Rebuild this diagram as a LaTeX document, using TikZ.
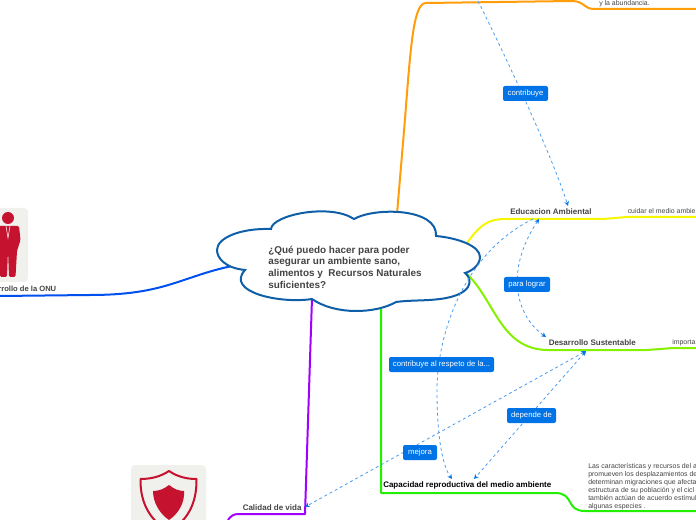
\documentclass[tikz,border=0pt]{standalone}
\usepackage{fontspec}
\setmainfont{Liberation Sans}
\usepackage{xcolor}
\usetikzlibrary{arrows.meta, positioning}
\definecolor{cloudblue}{HTML}{0F5FA8}
\definecolor{textgray}{HTML}{444444}
\definecolor{linkblue}{HTML}{4A9BEE}
\definecolor{tagblue}{HTML}{0073E6}
\definecolor{iconred}{HTML}{C4122F}
\definecolor{icongray}{HTML}{F0F0EC}
\definecolor{brorange}{HTML}{FF9D0A}
\definecolor{bryellow}{HTML}{F6F600}
\definecolor{brlime}{HTML}{85F000}
\definecolor{brgreen}{HTML}{22F000}
\definecolor{brpurple}{HTML}{A000FF}
\definecolor{brblue}{HTML}{0050F0}
\tikzset{
  topic/.style={anchor=west, inner sep=0pt, text=textgray, font=\fontsize{6}{7}\selectfont\bfseries},
  leaf/.style={anchor=west, inner sep=0pt, text=textgray, font=\fontsize{5.2}{6}\selectfont},
  tag/.style={rectangle, rounded corners=1.5pt, fill=tagblue, text=white, minimum height=11.25pt,
              inner sep=0pt, align=center, text height=4.5pt, text depth=0.8pt, font=\fontsize{5.8}{6}\selectfont},
  branch/.style={line width=1.5pt, line join=round},
  link/.style={linkblue, dash pattern=on 2.2pt off 2.2pt, line width=0.6pt},
  linkend/.style={-{Stealth[length=3.5pt,width=3.5pt,color=tagblue,fill=tagblue]}},
  linkboth/.style={{Stealth[length=3.5pt,width=3.5pt,color=tagblue,fill=tagblue]}-{Stealth[length=3.5pt,width=3.5pt,color=tagblue,fill=tagblue]}},
}
\begin{document}
\begin{tikzpicture}[x=0.75pt,y=-0.75pt]
  \useasboundingbox (0,0) rectangle (696,520);
  \clip (0,0) rectangle (696,520);

  % Icons
  \fill[icongray, rounded corners=3pt] (-20,208) rectangle (28,282);
  \fill[iconred] (8,218) circle (6);
  \fill[iconred, rounded corners=1pt] (-4,226) -- (19,226) -- (20.5,240) -- (17,251) -- (15.5,277) -- (9,277) -- (8,250) -- (7,277) -- (0,277) -- (-1,251) -- (-4,240) -- cycle;
  \draw[white, line width=0.4pt] (6,226) -- (8,238) -- (10,226);
  \fill[icongray, rounded corners=3pt] (131,465) rectangle (206,540);
  \draw[iconred, line width=1.5pt, line join=round] (169,471) .. controls (160,477) and (150,479) .. (140.5,479) .. controls (140,505) and (152,522) .. (169,531) .. controls (186,522) and (197,505) .. (196.5,479) .. controls (187,479) and (178,477) .. (169,471) -- cycle;
  \fill[iconred] (169,485) .. controls (164,489) and (159,491) .. (153,491) .. controls (153,503) and (160,514) .. (169,520) .. controls (178,514) and (185,503) .. (184,491) .. controls (179,491) and (174,489) .. (169,485) -- cycle;

  % Topic texts
  \node[topic] (edu) at (510,211.5) {Educacion Ambiental};
  \node[topic] (sus) at (548.5,342.5) {Desarrollo Sustentable};
  \node[topic, text=black] (cap) at (383,485.5) {Capacidad reproductiva del medio ambiente};
  \node[topic] (cal) at (242.5,507.5) {Calidad de vida};
  \node[topic, anchor=east, font=\fontsize{5.7}{7}\selectfont\bfseries] (onu) at (56.5,288.5) {rrollo de la ONU};
  \node[leaf] (abu) at (599,3.5) {y la abundancia.};
  \node[leaf] (cui) at (627.5,211.5) {cuidar el medio ambie};
  \node[leaf] (imp) at (672,342.5) {importa};
  \node[leaf, anchor=north west, align=left] (car) at (588,462.7)
    {Las características y recursos del a\\promueven los desplazamientos de\\determinan migraciones que afecta\\estructura de su población y el cicl\\también actúan de acuerdo estímul\\algunas especies .};

  % Branch ends
  \coordinate (cloudtop) at (397,214);
  \coordinate (cloudyel) at (467,243);
  \coordinate (cloudlim) at (466,273);
  \coordinate (cloudgrn) at (381,304);
  \coordinate (cloudpur) at (312,298);
  \coordinate (cloudblu) at (232,266);
  \coordinate (orangeend) at (696,9);
  \coordinate (yellowend) at (696,217);
  \coordinate (limeend) at (696,348);
  \coordinate (greenend) at (696,511);
  \coordinate (purpleend) at (228,520);
  \coordinate (blueend) at (0,296);

  % Branches
  \draw[branch, brorange] (cloudtop) -- (405,119) .. controls (411,40) and (414,3) .. (426,3) -- (572,1) .. controls (584,1) and (584,9) .. (594,9) -- (orangeend);
  \draw[branch, bryellow] (cloudyel) .. controls (480,225) and (488,219) .. (505,219) -- (603,219) -- (627,217) -- (yellowend);
  \draw[branch, brlime] (cloudlim) .. controls (495,300) and (500,349) .. (547,350) -- (647,350) -- (673,348) -- (limeend);
  \draw[branch, brgreen] (cloudgrn) -- (381,493) -- (555,493) .. controls (575,493) and (565,511) .. (585,511) -- (greenend);
  \draw[branch, brpurple] (cloudpur) -- (305,514) -- (238,514) .. controls (233,514) and (230,517) .. (purpleend);
  \draw[branch, brblue] (cloudblu) .. controls (180,277) and (165,295) .. (90,295) -- (blueend);

  % Cloud
  \draw[cloudblue, line width=1.5pt, fill=white, line join=miter]
    (271,229) .. controls (272,215) and (330,203) .. (354,219)
    .. controls (375,207) and (438,208) .. (436,236)
    .. controls (458,238) and (480,246) .. (480,257)
    .. controls (480,265) and (472,271) .. (465,273)
    .. controls (474,280) and (472,295) .. (440,299)
    .. controls (425,301) and (410,300) .. (396,302)
    .. controls (375,314) and (335,315) .. (312,299)
    .. controls (280,304) and (225,292) .. (245,270)
    .. controls (225,268) and (217,258) .. (217,250)
    .. controls (217,238) and (240,228) .. (271,229) -- cycle;
  \node[anchor=north west, inner sep=0pt, align=left, text=textgray,
        font=\fontsize{7.45}{8.7}\selectfont\bfseries] (root) at (268,245.7)
    {¿Qué puedo hacer para poder\\asegurar un ambiente sano,\\alimentos y \ Recursos Naturales\\suficientes?};

  % Link ends
  \coordinate (orgdot) at (478,1);
  \coordinate (eduin) at (568,206);
  \coordinate (edua) at (539,219);
  \coordinate (edub) at (533,219);
  \coordinate (susa) at (546,337);
  \coordinate (susb) at (586,351);
  \coordinate (capa) at (452,479);
  \coordinate (capb) at (474,479);
  \coordinate (calr) at (305,507);

  % Links
  \draw[link, linkend] (orgdot) .. controls (500,45) and (550,150) .. (eduin);
  \draw[link, linkboth] (edua) .. controls (505,270) and (515,315) .. (susa);
  \draw[link, linkend] (edub) .. controls (460,255) and (437,340) .. (437,390) .. controls (437,435) and (442,465) .. (capa);
  \draw[link, linkboth] (susb) -- (capb);
  \draw[link, linkboth] (susb) -- (calr);

  % Tags
  \node[tag, minimum width=33.75pt] (t1) at (525.5,93.5) {contribuye};
  \node[tag, minimum width=34.5pt] (t2) at (527,284.5) {para lograr};
  \node[tag, minimum width=78.75pt] (t3) at (441.5,364.5) {contribuye al respeto de la...};
  \node[tag, minimum width=36.75pt] (t4) at (531.5,415.5) {depende de};
  \node[tag, minimum width=25.5pt] (t5) at (420,452.5) {mejora};
\end{tikzpicture}
\end{document}
